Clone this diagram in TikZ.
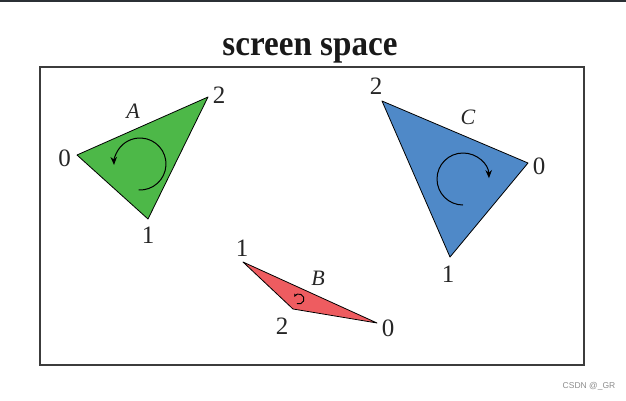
\documentclass[tikz,border=0pt]{standalone}
\usepackage{fontspec}
\setmainfont{Liberation Serif}
\newfontfamily\wmfont{Liberation Sans}
\usetikzlibrary{arrows.meta}
\definecolor{triGreen}{RGB}{77,184,72}
\definecolor{triBlue}{RGB}{79,137,200}
\definecolor{triRed}{RGB}{238,92,96}
\definecolor{frameGray}{RGB}{60,60,60}
\definecolor{topLine}{RGB}{43,48,53}
\begin{document}
\begin{tikzpicture}[x=1pt,y=1pt,
  tri/.style={draw=black,line width=0.8pt,line join=round},
  vlabel/.style={font=\fontsize{25}{25}\selectfont,inner sep=0pt,text=black!85},
  tlabel/.style={font=\fontsize{22}{22}\selectfont\itshape,inner sep=0pt,text=black!85},
  turn/.style={line width=1pt,-{Stealth[length=8pt,width=6.5pt]}},
  smallturn/.style={line width=0.9pt,-{Stealth[length=3pt,width=3pt]}}]
\useasboundingbox (0,0) rectangle (626,-400);
% top rule
\draw[topLine,line width=1.5pt] (0,-0.75) -- (626,-0.75);
% title
\node[font=\fontsize{36}{36}\selectfont\bfseries,anchor=base,inner sep=0pt,text=black!90,xscale=0.92] (title) at (310,-55) {screen space};
% frame
\draw[frameGray,line width=1.2pt] (40,-67) rectangle (584,-365);
% triangle A
\coordinate (a0) at (77,-155);
\coordinate (a1) at (148,-219);
\coordinate (a2) at (208,-97);
\filldraw[tri,fill=triGreen] (a0) -- (a1) -- (a2) -- cycle;
\node[vlabel] (la0) at (64.5,-158) {0};
\node[vlabel] (la1) at (148,-235) {1};
\node[vlabel] (la2) at (219,-95) {2};
\node[tlabel] (lA) at (133,-111) {A};
\coordinate (cA) at (140,-164);
\draw[turn] ([shift={(-93:26)}]cA) arc[start angle=-93,end angle=182,radius=26];
% triangle C
\coordinate (c0) at (528,-163);
\coordinate (c1) at (450,-257);
\coordinate (c2) at (382,-101);
\filldraw[tri,fill=triBlue] (c0) -- (c1) -- (c2) -- cycle;
\node[vlabel] (lc0) at (539,-166) {0};
\node[vlabel] (lc1) at (448,-274) {1};
\node[vlabel] (lc2) at (376,-86) {2};
\node[tlabel] (lC) at (468,-117) {C};
\coordinate (cC) at (463,-179);
\draw[turn] ([shift={(-90:26)}]cC) arc[start angle=-90,end angle=-358,radius=26];
% triangle B
\coordinate (b0) at (377,-323);
\coordinate (b1) at (243,-262);
\coordinate (b2) at (293,-309);
\filldraw[tri,fill=triRed] (b0) -- (b1) -- (b2) -- cycle;
\node[vlabel] (lb0) at (388,-328) {0};
\node[vlabel] (lb1) at (242,-248) {1};
\node[vlabel] (lb2) at (282,-326) {2};
\node[tlabel] (lB) at (318,-278) {B};
\coordinate (cB) at (299,-299);
\draw[smallturn] ([shift={(-115:5)}]cB) arc[start angle=-115,end angle=155,radius=5];
% watermark
\node[font=\wmfont\fontsize{8.5}{8.5}\selectfont,text=black!45,inner sep=0pt] (wm) at (589,-386) {CSDN @\_GR};
\end{tikzpicture}
\end{document}
